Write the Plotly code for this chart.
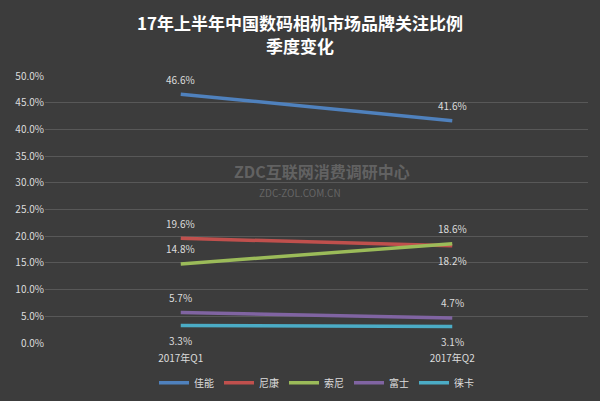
import plotly.graph_objects as go

title_lines = ["17年上半年中国数码相机市场品牌关注比例", "季度变化"]
categories = ["2017年Q1", "2017年Q2"]
brands = ["佳能", "尼康", "索尼", "富士", "徕卡"]
values = {
    "佳能": [46.6, 41.6],
    "尼康": [19.6, 18.2],
    "索尼": [14.8, 18.6],
    "富士": [5.7, 4.7],
    "徕卡": [3.3, 3.1],
}
label_side = {
    "佳能": [1, 1],
    "尼康": [1, -1],
    "索尼": [1, 1],
    "富士": [1, 1],
    "徕卡": [-1, -1],
}
colors = ["#4f81bd", "#c0504d", "#9bbb59", "#8064a2", "#4bacc6"]
y_ticks = [0, 5, 10, 15, 20, 25, 30, 35, 40, 45, 50]

fig = go.Figure()
for b, c in zip(brands, colors):
    fig.add_trace(go.Scatter(
        x=[0, 1], y=values[b], name=b, mode="lines",
        line=dict(color=c, width=3.5),
        cliponaxis=False,
    ))
    for i, v in enumerate(values[b]):
        fig.add_annotation(x=i, y=v, text=f"{v:.1f}%", showarrow=False,
                           yshift=15 * label_side[b][i],
                           font=dict(color="#dddddd", size=10, family="Noto Sans CJK SC"))

fig.update_layout(
    width=600, height=401,
    paper_bgcolor="#3c3c3c", plot_bgcolor="rgba(0,0,0,0)",
    margin=dict(l=45, r=12, t=76, b=58, autoexpand=False),
    font=dict(family="Noto Sans CJK SC", color="#dddddd", size=10),
    showlegend=True,
    legend=dict(orientation="h", x=0.5, xanchor="center", y=-0.095, yanchor="top",
                font=dict(size=10, color="#dddddd"), itemwidth=30,
                bgcolor="rgba(0,0,0,0)"),
    xaxis=dict(range=[-0.5, 1.5], tickvals=[0, 1], ticktext=categories,
               showgrid=False, zeroline=False, showline=False, ticks="",
               automargin=False, ticklabelstandoff=8,
               tickfont=dict(size=10, color="#dddddd")),
    yaxis=dict(range=[0, 50], tickvals=y_ticks,
               ticktext=[f"{v:.1f}%" for v in y_ticks],
               showgrid=True, gridcolor="#585858", gridwidth=1, zeroline=False,
               showline=False, ticks="", automargin=False,
               tickfont=dict(size=10, color="#dddddd")),
)

for txt, yy in zip(title_lines, [1.2, 1.116]):
    fig.add_annotation(text=f"<b>{txt}</b>", xref="paper", yref="paper",
                       x=0.47, y=yy, yanchor="middle", showarrow=False,
                       font=dict(size=17, color="#ffffff"))

fig.add_annotation(text="<b>ZDC互联网消费调研中心</b>", xref="paper", yref="paper",
                   x=0.51, y=0.645, showarrow=False,
                   font=dict(size=16, color="rgba(125,125,125,0.6)"))
fig.add_annotation(text="ZDC-ZOL.COM.CN", xref="paper", yref="paper",
                   x=0.47, y=0.565, showarrow=False,
                   font=dict(size=10, color="rgba(125,125,125,0.65)"))

fig.write_html("out.html", config={"displayModeBar": False},
               post_script="document.body.style.margin='0';document.body.style.background='#3c3c3c';")
